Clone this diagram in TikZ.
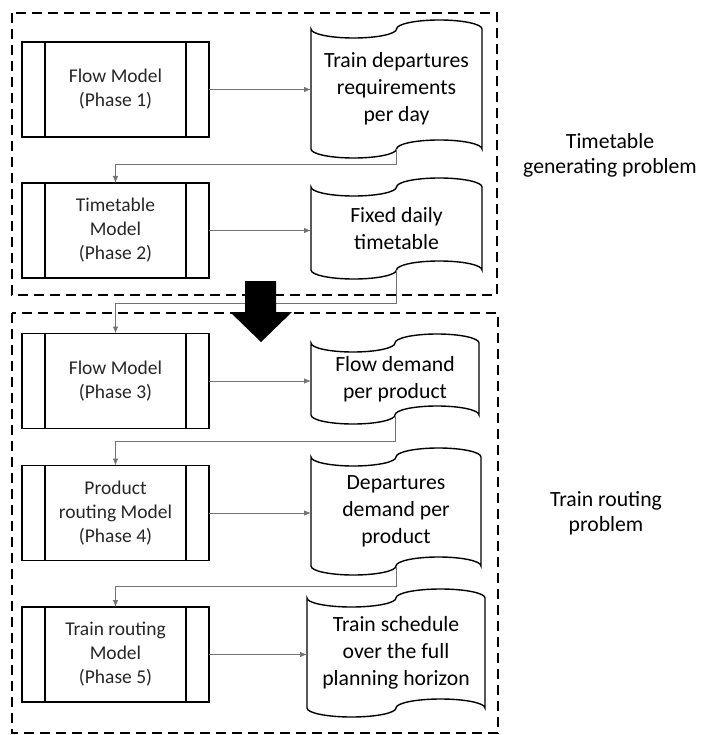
\documentclass[tikz,border=0pt]{standalone}
\usepackage{fontspec}
\setmainfont{Carlito}
\usepackage{tikz}
\usetikzlibrary{arrows.meta}

% outline of a punched-tape document around a node: #1 node, #2 quarter width
\newcommand{\tapeborder}[2]{%
  \draw[tapeline] ([yshift=-9pt]#1.north west)
    arc[start angle=180, end angle=360, x radius=#2, y radius=9pt]
    arc[start angle=180, end angle=0, x radius=#2, y radius=9pt]
    -- ([yshift=9pt]#1.south east)
    arc[start angle=0, end angle=180, x radius=#2, y radius=9pt]
    arc[start angle=0, end angle=-180, x radius=#2, y radius=9pt] -- cycle;}

\tikzset{
  model/.style={draw, line width=1.6pt, minimum width=187pt, minimum height=95pt,
    inner sep=0pt, outer sep=0pt, align=center, text=black!85,
    font=\fontsize{19.5}{24}\selectfont,
    path picture={\draw[line width=1.6pt]
      ([xshift=23pt]path picture bounding box.north west) -- ([xshift=23pt]path picture bounding box.south west)
      ([xshift=-23pt]path picture bounding box.north east) -- ([xshift=-23pt]path picture bounding box.south east);}},
  tape/.style={minimum height=#1, inner sep=0pt, outer sep=0pt, align=center,
    font=\fontsize{21.7}{27}\selectfont},
  tapeline/.style={line width=1.4pt},
  link/.style={draw=black!55, line width=0.8pt, -{Latex[length=7pt,width=5.5pt]}},
  group/.style={line width=2.6pt, dash pattern=on 10pt off 6pt},
  caption/.style={align=center, font=\fontsize{21.7}{25}\selectfont}
}

\begin{document}
\begin{tikzpicture}[x=1pt, y=1pt]
    \useasboundingbox (0,0) rectangle (713,-735);
    % dashed groups
    \draw[group] (12,-13) rectangle (497,-295);
    \draw[group] (12,-313) rectangle (498,-733);
    \node[caption] (ttcap) at (610,-155) {Timetable\\generating problem};
    \node[caption] (rtcap) at (606,-513) {Train routing\\problem};

    % models
    \node[model] (phase1) at (115.5,-89.5) {Flow Model\\(Phase 1)};
    \node[model] (phase2) at (115.5,-230.5) {Timetable\\Model\\(Phase 2)};
    \node[model] (phase3) at (115.5,-381) {Flow Model\\(Phase 3)};
    \node[model] (phase4) at (115.5,-513) {Product\\routing Model\\(Phase 4)};
    \node[model] (phase5) at (115.5,-654.5) {Train routing\\Model\\(Phase 5)};

    % outputs
    \node[tape=138pt, minimum width=171pt] (depreq) at (396.5,-89) {Train departures\\requirements\\per day};
    \node[tape=101pt, minimum width=171pt] (dailytt) at (396.5,-228.5) {Fixed daily\\timetable};
    \node[tape=90pt, minimum width=168pt] (flowdem) at (395,-379) {Flow demand\\per product};
    \node[tape=127pt, minimum width=170pt] (depdem) at (396,-511.5) {Departures\\demand per\\product};
    \node[tape=128pt, minimum width=178pt] (schedule) at (396,-653) {Train schedule\\over the full\\planning horizon};
    \tapeborder{depreq}{42.75pt}
    \tapeborder{dailytt}{42.75pt}
    \tapeborder{flowdem}{42pt}
    \tapeborder{depdem}{42.5pt}
    \tapeborder{schedule}{44.5pt}

    % model -> output
    \draw[link] (phase1.east) -- (phase1.east -| depreq.west);
    \draw[link] (phase2.east) -- (phase2.east -| dailytt.west);
    \draw[link] (phase3.east) -- (phase3.east -| flowdem.west);
    \draw[link] (phase4.east) -- (phase4.east -| depdem.west);
    \draw[link] (phase5.east) -- (phase5.east -| schedule.west);

    % output -> next model
    \draw[link] ([yshift=9pt]depreq.south) |- ([yshift=19pt]phase2.north) -- (phase2.north);
    \draw[link] ([yshift=9pt]dailytt.south) |- ([yshift=30pt]phase3.north) -- (phase3.north);
    \draw[link] ([yshift=9pt]flowdem.south) |- ([yshift=24pt]phase4.north) -- (phase4.north);
    \draw[link] ([yshift=9pt]depdem.south) |- ([yshift=21pt]phase5.north) -- (phase5.north);

    % block arrow between the two problems
    \fill (245,-281) -- (276,-281) -- (276,-312) -- (292,-312) -- (261,-342)
      -- (230,-312) -- (245,-312) -- cycle;
\end{tikzpicture}
\end{document}
